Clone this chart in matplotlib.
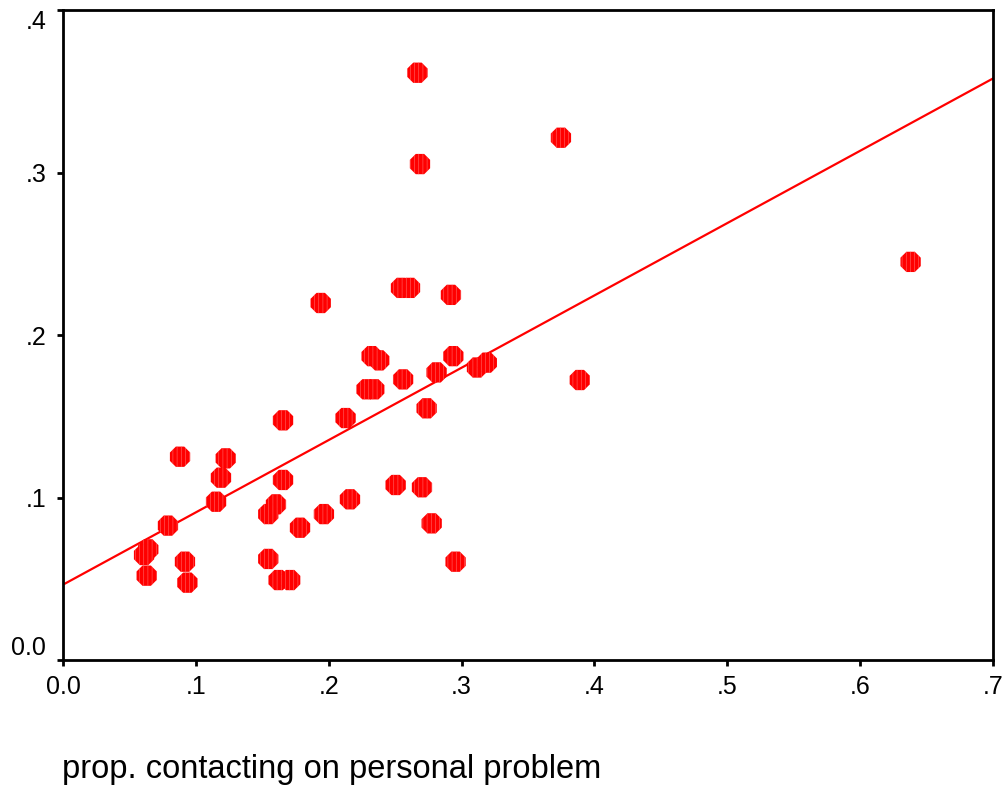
import numpy as np
import matplotlib
matplotlib.use('Agg')
import matplotlib.pyplot as plt

plt.rcParams['font.family'] = ['Liberation Sans', 'DejaVu Sans']
plt.rcParams['hatch.linewidth'] = 0.4

# proportion contacting on personal problem (x) vs. outcome proportion (y)
prop_personal = [0.2668, 0.2687, 0.3748, 0.638, 0.194, 0.2544, 0.2612, 0.292,
                 0.2323, 0.238, 0.2938, 0.256, 0.2812, 0.2285, 0.2343, 0.3116,
                 0.319, 0.2737, 0.2127, 0.1656, 0.1656, 0.1603, 0.1545, 0.1784,
                 0.1964, 0.216, 0.2504, 0.2702, 0.2775, 0.2955, 0.1545, 0.1623,
                 0.171, 0.0881, 0.1225, 0.1189, 0.1152, 0.079, 0.0642, 0.061,
                 0.063, 0.0918, 0.0936, 0.389]
prop_outcome = [0.3614, 0.3052, 0.3214, 0.245, 0.2197, 0.229, 0.229, 0.2247,
                0.187, 0.1844, 0.187, 0.1727, 0.177, 0.1666, 0.1666, 0.18,
                0.183, 0.1549, 0.1489, 0.1475, 0.1108, 0.0958, 0.0898, 0.0814,
                0.0898, 0.0989, 0.1077, 0.1063, 0.0841, 0.0605, 0.0622, 0.0492,
                0.0492, 0.1251, 0.1241, 0.1122, 0.0974, 0.0827, 0.0681, 0.0646,
                0.0519, 0.0605, 0.0476, 0.1723]

x_ticks = [0.0, 0.1, 0.2, 0.3, 0.4, 0.5, 0.6, 0.7]
x_labels = ['0.0', '.1', '.2', '.3', '.4', '.5', '.6', '.7']
y_ticks = [0.0, 0.1, 0.2, 0.3, 0.4]
y_labels = ['0.0', '.1', '.2', '.3', '.4']

fig = plt.figure(figsize=(10.08, 7.95), dpi=100)
ax = fig.add_axes([0.0625, 0.1698, 0.9226, 0.8176])

ax.scatter(prop_personal, prop_outcome, s=250, marker='8', facecolor='#ff0000',
           edgecolors='#ff6a6a', linewidths=0, hatch='||||', zorder=3)

# least squares fit line across the full x range
slope, intercept = np.polyfit(prop_personal, prop_outcome, 1)
xs = np.array([0.0, 0.7])
ax.plot(xs, intercept + slope * xs, color='#ff0000', lw=1.6, zorder=2)

ax.set_xlim(0, 0.7)
ax.set_ylim(0, 0.4)
ax.set_xticks(x_ticks)
ax.set_xticklabels(x_labels)
ax.set_yticks(y_ticks)
ax.set_yticklabels(y_labels)
ax.tick_params(axis='both', direction='out', length=4, width=2,
               labelsize=18, colors='black')
ax.tick_params(axis='x', pad=7)
ax.tick_params(axis='y', pad=8)
# end labels sit inside the axis range, like the original
ylabs = ax.get_yticklabels()
ylabs[0].set_va('bottom')
ylabs[-1].set_va('top')
for sp in ax.spines.values():
    sp.set_linewidth(2)
    sp.set_color('black')

fig.text(0.0615, 1 - 778 / 795, 'prop. contacting on personal problem',
         fontsize=23.5, ha='left', va='baseline')

fig.savefig('out.png', dpi=100)
